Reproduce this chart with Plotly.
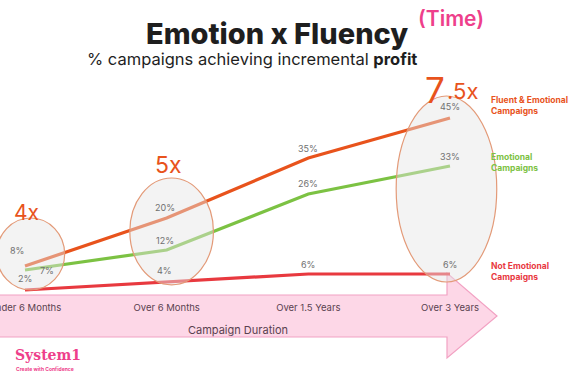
import plotly.graph_objects as go

# ---------------- data ----------------
categories = ["Under 6 Months", "Over 6 Months", "Over 1.5 Years", "Over 3 Years"]
fluent_emotional = [8, 20, 35, 45]
emotional = [7, 12, 26, 33]
not_emotional = [2, 4, 6, 6]
series_names = ["Fluent & Emotional<br>Campaigns", "Emotional<br>Campaigns", "Not Emotional<br>Campaigns"]
multipliers = ["4x", "5x", "7.5x"]

ORANGE = "#e8531c"
GREEN = "#7cc243"
RED = "#e8393f"
LABEL_GRAY = "#707070"
PINK = "#ee3f8b"
FONT = "Inter, Noto Sans, sans-serif"

W, H = 576, 374
fig = go.Figure()

xs = list(range(len(categories)))
for vals, col in [(not_emotional, RED), (emotional, GREEN), (fluent_emotional, ORANGE)]:
    fig.add_trace(go.Scatter(x=xs, y=vals, mode="lines",
                             line=dict(color=col, width=3.2), showlegend=False,
                             hoverinfo="skip"))

# value labels: (dx, dy) pixel offsets (dy positive = up)
lab_font = dict(family=FONT, size=9, color=LABEL_GRAY)
offsets = {
    "f": [(-8, 16), (-2, 11), (0, 10), (0, 12)],
    "e": [(22, 0), (-2, 10), (0, 11), (0, 10)],
    "n": [(0, 12), (-2, 12), (0, 10), (0, 10)],
}
for key, vals in [("f", fluent_emotional), ("e", emotional), ("n", not_emotional)]:
    for i, v in enumerate(vals):
        dx, dy = offsets[key][i]
        fig.add_annotation(x=i, y=v, text=f"{v}%", showarrow=False, font=lab_font,
                           xanchor="center", yanchor="middle", xshift=dx, yshift=dy)

# highlight ellipses (x extents in category units, y extents in %)
ell = [(-0.20, 0.28, 2.0, 20.0), (0.74, 1.33, 3.3, 30.0), (2.62, 3.33, 4.0, 50.5)]
for (x0, x1, y0, y1) in ell:
    fig.add_shape(type="circle", xref="x", yref="y", x0=x0, x1=x1, y0=y0, y1=y1,
                  line=dict(color="#e39a78", width=1.2),
                  fillcolor="rgba(228,228,228,0.45)", layer="above")

# multipliers
mfont = lambda s: dict(family=FONT, size=s, color=ORANGE)
fig.add_annotation(x=0.01, y=21.5, text=multipliers[0], showarrow=False,
                   xanchor="center", yanchor="middle", font=mfont(21))
fig.add_annotation(x=1.01, y=33.3, text=multipliers[1], showarrow=False,
                   xanchor="center", yanchor="middle", font=mfont(23))
seven, rest = multipliers[2][:1], multipliers[2][1:]
fig.add_annotation(x=3.0, y=52.0, text=seven, showarrow=False, xanchor="right", yanchor="middle",
                   xshift=-3, font=mfont(35))
fig.add_annotation(x=3.0, y=52.0, text=rest, showarrow=False, xanchor="left", yanchor="middle",
                   xshift=-5, yshift=-1, font=mfont(22))

# series labels at right
ser_cols = [ORANGE, GREEN, RED]
ser_y = [48.1, 33.9, 6.6]
for name, col, yv in zip(series_names, ser_cols, ser_y):
    fig.add_annotation(xref="paper", x=489 / W, y=yv, text=f"<b>{name}</b>", showarrow=False,
                       xanchor="left", yanchor="middle", align="left",
                       font=dict(family=FONT, size=8.5, color=col))

# pink arrow (paper coords)
def px(x):
    return x / W
def py(y):
    return 1 - y / H
path = (f"M {px(-2)},{py(295)} L {px(447)},{py(295)} L {px(447)},{py(273)} "
        f"L {px(497)},{py(316)} L {px(447)},{py(358)} L {px(447)},{py(337)} "
        f"L {px(-2)},{py(337)} Z")
fig.add_shape(type="path", xref="paper", yref="paper", path=path,
              fillcolor="#fdd7e7", line=dict(color="#f2a2c3", width=1.2), layer="below")

def paper_text(x, y, text, font, xanchor="center"):
    fig.add_annotation(xref="paper", yref="paper", x=px(x), y=py(y), text=text,
                       showarrow=False, xanchor=xanchor, yanchor="middle", font=font)

paper_text(238, 330, "Campaign Duration", dict(family=FONT, size=11, color="#5a4250"))

# titles
paper_text(277, 33, "Emotion x Fluency", dict(family=FONT, size=29, color="#1e1e1e", weight=800))
paper_text(451, 19, "(Time)", dict(family=FONT, size=21, color=PINK, weight=600))
paper_text(252, 59, "% campaigns achieving incremental <b>profit</b>",
           dict(family=FONT, size=16.5, color="#1e1e1e"))

# logo
paper_text(13, 355, "<b>System1</b>", dict(family="DejaVu Serif, serif", size=14, color=PINK),
           xanchor="left")
paper_text(14, 369, "<b>Create with Confidence</b>", dict(family=FONT, size=5, color=PINK),
           xanchor="left")

# axes: plot area = whole figure; x=0 at px 25, x=3 at px 450; y: 0% at px 298, 4 px per %
ux = (450 - 25) / 3
x_lo = -25 / ux
x_hi = (W - 25) / ux
y_hi = 298 / 4
y_lo = -(H - 298) / 4
fig.update_layout(
    width=W, height=H, margin=dict(l=0, r=0, t=0, b=0, autoexpand=False),
    paper_bgcolor="white", plot_bgcolor="rgba(0,0,0,0)",
    xaxis=dict(range=[x_lo, x_hi], tickvals=xs, ticktext=categories, showgrid=False,
               zeroline=False, showline=False, ticks="", anchor="free", position=1 - 300 / H,
               ticklabeloverflow="allow", automargin=False,
               tickfont=dict(family=FONT, size=9.5, color="#5a4250")),
    yaxis=dict(range=[y_lo, y_hi], visible=False, showgrid=False, zeroline=False,
               automargin=False),
    showlegend=False,
)

fig.write_html("out.html")
